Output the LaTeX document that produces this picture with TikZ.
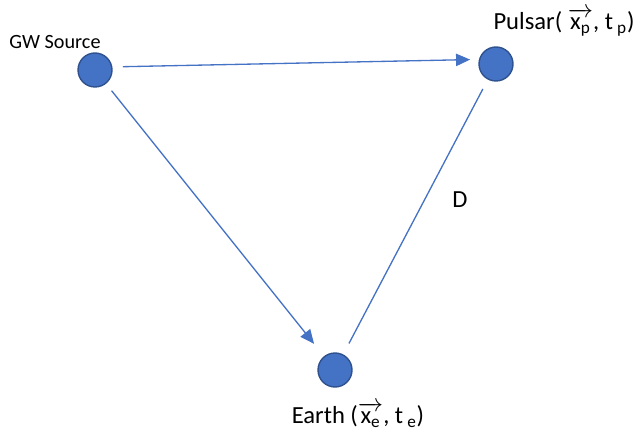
\documentclass[tikz,border=0pt]{standalone}
\usepackage{xcolor}
\usepackage{amsmath}
\usepackage{fontspec}
\setmainfont{Carlito}
\usetikzlibrary{arrows.meta, positioning}

\definecolor{dotblue}{HTML}{4472C4}
\definecolor{dotedge}{HTML}{2F528F}

\begin{document}
\begin{tikzpicture}[
  x=0.02cm, y=-0.02cm,
  body/.style={circle, draw=dotedge, line width=0.8pt, fill=dotblue, minimum size=0.68cm, inner sep=0pt},
  lbl/.style={font=\fontsize{14}{16}\selectfont, inner sep=0pt},
  link/.style={draw=dotblue, line width=0.75pt},
  arrow/.style={link, -{Triangle[length=8pt,width=7pt]}}
]
  \useasboundingbox (0,0) rectangle (641,438);

  \node[body] (src) at (95,70) {};
  \node[body] (psr) at (496,64) {};
  \node[body] (earth) at (335,370) {};

  \node[inner sep=0pt, font=\fontsize{11.5}{13}\selectfont] (srclbl) at (55,42) {GW Source};
  \node[lbl] (psrlbl) at (564,22) {Pulsar( $\overrightarrow{\text{x}_{\text{p}}}$, t\,$_{\text{p}}$)};
  \node[lbl] (earthlbl) at (358,415) {Earth ($\overrightarrow{\text{x}_{\text{e}}}$, t\,$_{\text{e}}$)};
  \node[lbl] (dist) at (460,200) {D};

  \draw[arrow, shorten <=6pt, shorten >=5pt] (src.10) -- (psr.165);
  \draw[arrow, shorten <=5pt, shorten >=9pt] (src) -- (earth);
  \draw[link, shorten <=7pt, shorten >=6pt] (earth) -- (psr);
\end{tikzpicture}
\end{document}
